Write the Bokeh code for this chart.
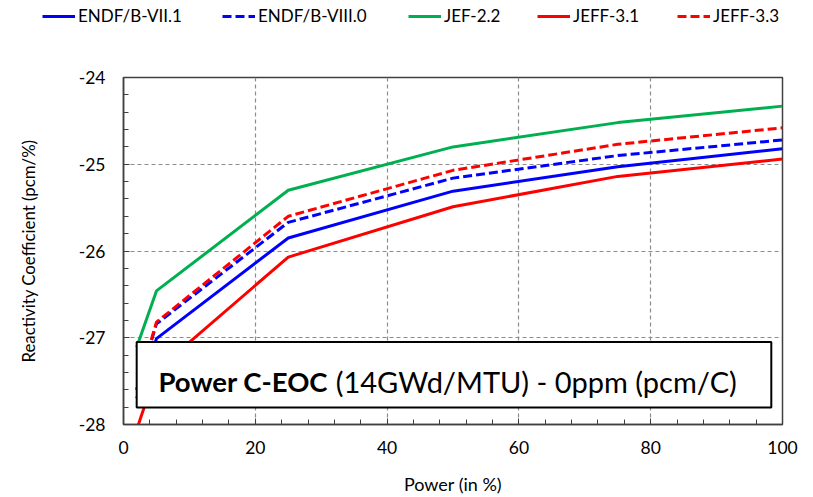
from bokeh.plotting import figure
from bokeh.layouts import column, row
from bokeh.models import (Range1d, Legend, LegendItem, BoxAnnotation, Label,
                          SingleIntervalTicker, NumeralTickFormatter)
from bokeh.embed import file_html
from bokeh.resources import INLINE

# ---- data ----
power = [2, 5, 25, 50, 75, 100]
endf_b_vii1 = [-27.70, -27.01, -25.85, -25.31, -25.03, -24.82]
endf_b_viii0 = [-27.60, -26.84, -25.67, -25.16, -24.90, -24.72]
jef22 = [-27.11, -26.46, -25.30, -24.80, -24.52, -24.33]
jeff31 = [-28.06, -27.38, -26.07, -25.49, -25.14, -24.94]
jeff33 = [-27.60, -26.82, -25.60, -25.07, -24.77, -24.58]

names = ["ENDF/B-VII.1", "ENDF/B-VIII.0", "JEF-2.2", "JEFF-3.1", "JEFF-3.3"]
values = [endf_b_vii1, endf_b_viii0, jef22, jeff31, jeff33]
colors = ["#0000FF", "#0000FF", "#00B050", "#FF0000", "#FF0000"]
dashes = ["solid", "9 4", "solid", "solid", "9 4"]
legend_x = [42, 222, 408, 537, 677]

FONT = "Lato"
TOP_H = 40
LEFT = 123
RIGHT = 31

# ---- legend strip (its own frame spans the full width) ----
top = figure(width=813, height=TOP_H, output_backend="svg", toolbar_location=None,
             x_range=Range1d(0, 1), y_range=Range1d(0, 1),
             x_axis_location=None, y_axis_location=None,
             min_border_left=0, min_border_right=0, min_border_top=0, min_border_bottom=0)
top.grid.visible = False
top.outline_line_color = None
top.background_fill_color = "white"
top.border_fill_color = "white"
for name, color, dash, lx in zip(names, colors, dashes, legend_x):
    # proxy line kept outside the visible range: only its legend swatch shows
    r = top.line([5, 6], [5, 5], line_color=color, line_width=3, line_dash=dash)
    leg = Legend(items=[LegendItem(label=name, renderers=[r])],
                 location=(lx, TOP_H - 26), orientation="horizontal",
                 border_line_alpha=0, background_fill_alpha=0,
                 padding=0, margin=0, glyph_width=33, glyph_height=20,
                 label_standoff=3, label_text_font=FONT, label_text_font_size="17px",
                 label_text_color="black")
    top.add_layout(leg)

# ---- main chart ----
p = figure(width=813, height=497 - TOP_H, output_backend="svg", toolbar_location=None,
           x_range=Range1d(0, 100), y_range=Range1d(-28, -24),
           min_border_left=LEFT, min_border_right=RIGHT, min_border_top=77 - TOP_H,
           min_border_bottom=71)
p.background_fill_color = "white"
p.border_fill_color = "white"
p.outline_line_color = "#404040"
p.outline_line_width = 1.5

p.xaxis.ticker = SingleIntervalTicker(interval=20, num_minor_ticks=5)
p.yaxis.ticker = SingleIntervalTicker(interval=1, num_minor_ticks=5)
p.xaxis.formatter = NumeralTickFormatter(format="0")
p.yaxis.formatter = NumeralTickFormatter(format="0")
for ax in (p.xaxis[0], p.yaxis[0]):
    ax.major_tick_in = 6
    ax.major_tick_out = 0
    ax.minor_tick_in = 5
    ax.minor_tick_out = 0
    ax.axis_line_color = "#404040"
    ax.axis_line_width = 1.5
    ax.major_tick_line_color = "#404040"
    ax.minor_tick_line_color = "#404040"
    ax.major_label_text_font = FONT
    ax.major_label_text_font_size = "17.5px"
    ax.major_label_text_color = "black"
    ax.axis_label_text_font = FONT
    ax.axis_label_text_font_style = "normal"
    ax.axis_label_text_color = "black"

p.xaxis.axis_label = "Power (in %)"
p.yaxis.axis_label = "Reactivity Coefficient (pcm/%)"
p.xaxis.axis_label_text_font_size = "18px"
p.yaxis.axis_label_text_font_size = "16.8px"
p.xaxis.major_label_standoff = 16
p.yaxis.major_label_standoff = 18
p.xaxis.axis_label_standoff = 16
p.yaxis.axis_label_standoff = 37

for g in (p.xgrid[0], p.ygrid[0]):
    g.grid_line_color = "#8c8c8c"
    g.grid_line_dash = "4 3"
    g.grid_line_width = 1.2

for ys, color, dash in zip(values, colors, dashes):
    p.line(power, ys, line_color=color, line_width=3, line_dash=dash)

box = BoxAnnotation(left=2.0, right=98.3, top=-27.05, bottom=-27.805,
                    fill_color="white", fill_alpha=1, line_color="black", line_width=2,
                    line_alpha=1)
p.add_layout(box)

lab1 = Label(x=5.31, y=-27.51, text="Power C-EOC", text_font=FONT, text_font_style="bold",
             text_font_size="27.5px", text_baseline="middle", text_color="black")
lab2 = Label(x=32.2, y=-27.51, text="(14GWd/MTU) - 0ppm (pcm/C)", text_font=FONT,
             text_font_style="normal", text_font_size="29px", text_baseline="middle",
             text_color="black")
p.add_layout(lab1)
p.add_layout(lab2)

layout = column(row(top, spacing=0), p, spacing=0)
open("out.html", "w").write(file_html(layout, INLINE))
